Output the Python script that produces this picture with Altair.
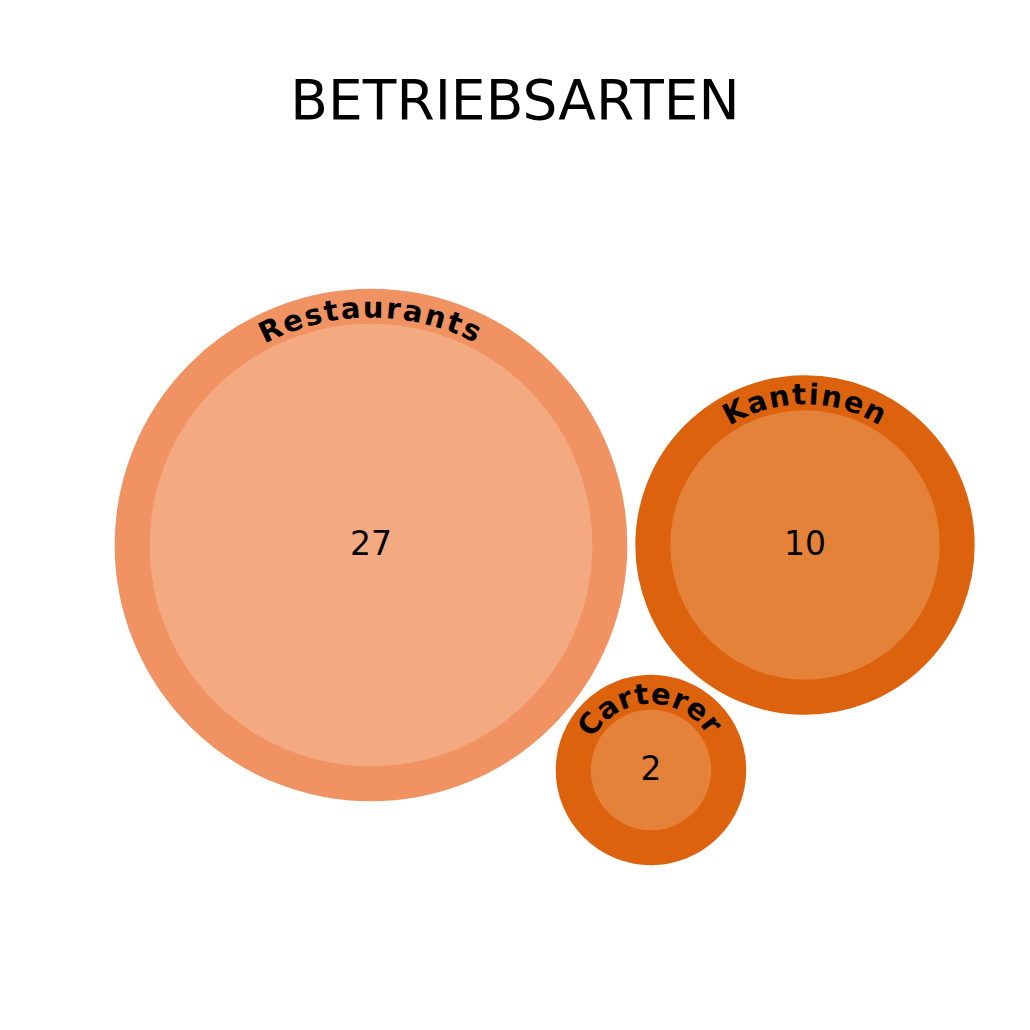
import math
import altair as alt
import pandas as pd

# ---- data ----
categories = ["Restaurants", "Kantinen", "Carterer"]
values = [27, 10, 2]
center_x = [371, 805, 651]   # bubble layout centres (page pixels)
center_y = [545, 545, 770]
title_text = "BETRIEBSARTEN"

# ---- style ----
K = 42.6          # inner radius = K * sqrt(value)
RING = 35         # ring width around value bubble
outer_colors = ["#F19263", "#DD620E", "#DD620E"]
inner_colors = ["#F4AA80", "#E5823A", "#E5823A"]
LABEL_FONT = 29
TRACK = 2.8
FONT = "DejaVu Sans"
char_w = {"R": .770, "e": .678, "s": .595, "t": .478, "a": .675, "u": .712,
          "r": .493, "n": .712, "K": .775, "i": .343, "C": .734}

W = 1000
PAD_TOP = 160
H = 1000 - PAD_TOP
Y0 = 8 + PAD_TOP

circles = pd.DataFrame({"cat": categories, "value": values,
                        "cx": center_x, "cy": center_y})

rows = []
for cat, v, cx, cy in zip(categories, values, center_x, center_y):
    r_lab = K * math.sqrt(v) + 15
    adv = [char_w.get(c, 0.65) * LABEL_FONT + TRACK for c in cat]
    centers = []
    p = 0.0
    for w in adv:
        centers.append(p + w / 2)
        p += w
    mid = (centers[0] + centers[-1]) / 2
    for c, s in zip(cat, centers):
        a = (s - mid) / r_lab
        rows.append({"cat": cat, "ch": c,
                     "x": cx + r_lab * math.sin(a),
                     "y": cy - r_lab * math.cos(a),
                     "ang": math.degrees(a) % 360})
chars = pd.DataFrame(rows)

xs = alt.Scale(domain=[8, 8 + W], nice=False, zero=False)
ys = alt.Scale(domain=[Y0, Y0 + H], reverse=True, nice=False, zero=False)
# Vega circle: radius = sqrt(size)/2  ->  size = 4 r^2, r = K*sqrt(v)
size_max = 4 * K * K * max(values)
size_scale = alt.Scale(type="linear", domain=[0, max(values)], range=[0, size_max],
                       nice=False, zero=True)
outer_scale = alt.Scale(domain=categories, range=outer_colors)
inner_scale = alt.Scale(domain=categories, range=inner_colors)

base = alt.Chart(circles).encode(
    x=alt.X("cx:Q", scale=xs, axis=None),
    y=alt.Y("cy:Q", scale=ys, axis=None),
)

outer = base.mark_circle(opacity=1, strokeWidth=2 * RING).encode(
    size=alt.Size("value:Q", scale=size_scale, legend=None),
    fill=alt.Fill("cat:N", scale=outer_scale, legend=None),
    stroke=alt.Stroke("cat:N", scale=outer_scale, legend=None),
)

inner = base.mark_circle(opacity=1).encode(
    size=alt.Size("value:Q", scale=size_scale, legend=None),
    color=alt.Color("cat:N", scale=inner_scale, legend=None),
)

numbers = base.mark_text(font=FONT, fontSize=33, color="black",
                         align="center", baseline="middle").encode(
    text=alt.Text("value:Q")
)

labels = alt.Chart(chars).mark_text(font=FONT, fontSize=LABEL_FONT, fontWeight="bold",
                                    color="black", align="center", baseline="middle").encode(
    x=alt.X("x:Q", scale=xs, axis=None),
    y=alt.Y("y:Q", scale=ys, axis=None),
    angle=alt.Angle("ang:Q", scale=None),
    text="ch:N",
)

chart = alt.layer(outer, inner, numbers, labels).resolve_scale(
    color="independent", fill="independent", stroke="independent"
).properties(
    width=W, height=H,
    title=alt.TitleParams(text=title_text, fontSize=55, font=FONT, fontWeight="normal",
                          color="black", anchor="middle", baseline="alphabetic",
                          offset=47, dx=7, dy=53),
    padding={"left": 0, "top": PAD_TOP, "right": 0, "bottom": 0},
    autosize=alt.AutoSizeParams(type="none"),
    background="white",
).configure_view(stroke=None)

chart.save("out.html", embed_options={"renderer": "svg", "actions": False})
